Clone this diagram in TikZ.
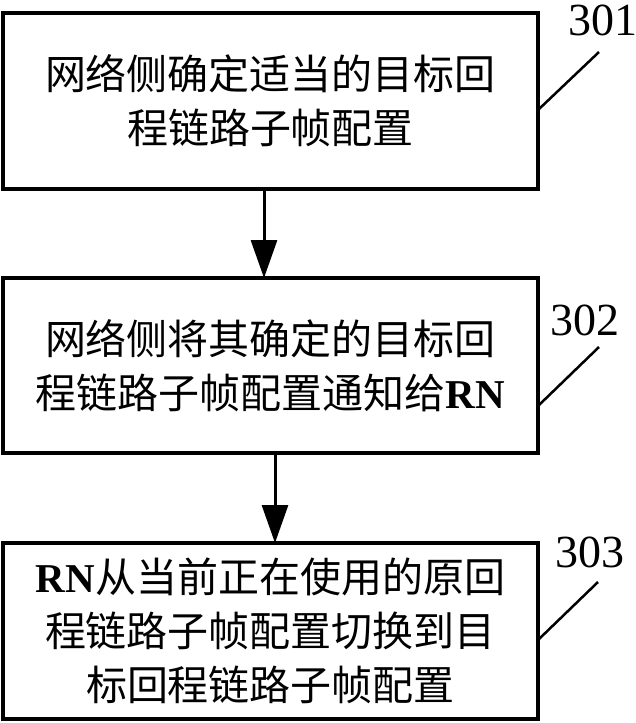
\documentclass[tikz,border=0pt]{standalone}
\usepackage{fontspec}
\setmainfont{Noto Sans CJK SC}
\newfontfamily\latinfont{Liberation Serif}
\usetikzlibrary{arrows.meta}
\newcommand{\RNtxt}{{\latinfont\bfseries RN}}
\begin{document}
\begin{tikzpicture}[x=1pt,y=-1pt,
  stepbox/.style={draw,line width=3.5pt,minimum width=535pt,inner sep=0pt,
    align=center,font=\fontsize{41}{54}\selectfont},
  flow/.style={line width=3pt,-{Triangle[length=38pt,width=26pt]}},
  leader/.style={line width=2.5pt},
  steplabel/.style={anchor=base west,inner sep=0pt,font=\latinfont\fontsize{46}{46}\selectfont}]
\useasboundingbox (0,0) rectangle (636,723);
\node[stepbox,minimum height=176pt] (b1) at (270.5,101) {网络侧确定适当的目标回\\程链路子帧配置};
\node[stepbox,minimum height=175pt] (b2) at (270.5,365.5) {网络侧将其确定的目标回\\程链路子帧配置通知给\RNtxt};
\node[stepbox,minimum height=176pt] (b3) at (270.5,631) {\RNtxt 从当前正在使用的原回\\程链路子帧配置切换到目\\标回程链路子帧配置};
\node[steplabel] (n1) at (568,35) {301};
\node[steplabel] (n2) at (550,335) {302};
\node[steplabel] (n3) at (555,567) {303};
\coordinate (a1s) at (264,189);
\coordinate (a1e) at (264,278);
\coordinate (a2s) at (275,453);
\coordinate (a2e) at (275,543);
\draw[flow] (a1s) -- (a1e);
\draw[flow] (a2s) -- (a2e);
\coordinate (l1a) at (538,110);
\coordinate (l1b) at (599,52);
\coordinate (l2a) at (538,406);
\coordinate (l2b) at (599,347);
\coordinate (l3a) at (538,640);
\coordinate (l3b) at (598,582);
\draw[leader] (l1a) -- (l1b);
\draw[leader] (l2a) -- (l2b);
\draw[leader] (l3a) -- (l3b);
\end{tikzpicture}
\end{document}
